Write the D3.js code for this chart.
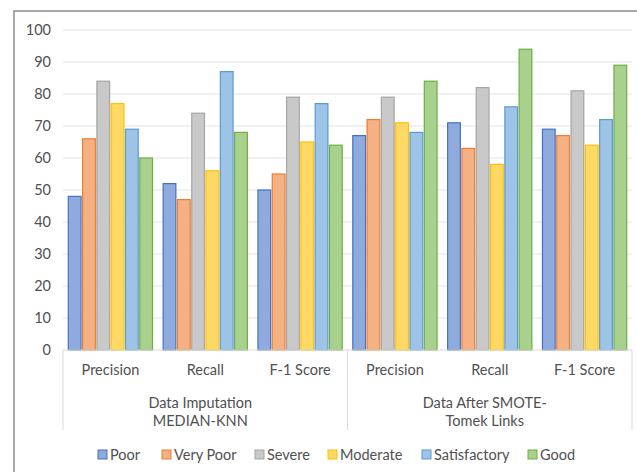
<!DOCTYPE html>
<html>
<head>
<meta charset="utf-8">
<script src="https://cdn.jsdelivr.net/npm/d3@7"></script>
<style>
  html, body { margin: 0; padding: 0; background: #fff; }
  svg { display: block; }
  text { font-family: Lato, "Open Sans", sans-serif; fill: #505050; }
</style>
</head>
<body>
<svg id="chart" width="637" height="472"></svg>
<script>
// Metric labels along the category axis and their grouping
const metrics = ["Precision", "Recall", "F-1 Score", "Precision", "Recall", "F-1 Score"];
const groupLabels = [["Data Imputation", "MEDIAN-KNN"], ["Data After SMOTE-", "Tomek Links"]];
const classes = ["Poor", "Very Poor", "Severe", "Moderate", "Satisfactory", "Good"];
const yTicks = [0, 10, 20, 30, 40, 50, 60, 70, 80, 90, 100];

// Scores per class, one value per metric column
const poor         = [48, 52, 50, 67, 71, 69];
const veryPoor     = [66, 47, 55, 72, 63, 67];
const severe       = [84, 74, 79, 79, 82, 81];
const moderate     = [77, 56, 65, 71, 58, 64];
const satisfactory = [69, 87, 77, 68, 76, 72];
const good         = [60, 68, 64, 84, 94, 89];

const fills   = ["#8faadc", "#f4b183", "#c9c9c9", "#ffd966", "#9dc3e6", "#a9d18e"];
const strokes = ["#4472c4", "#ed7d31", "#a5a5a5", "#ffc000", "#5b9bd5", "#70ad47"];

const seriesValues = [poor, veryPoor, severe, moderate, satisfactory, good];

const svg = d3.select("#chart");

// Outer chart frame
svg.append("rect")
  .attr("x", 14).attr("y", 11)
  .attr("width", 640).attr("height", 480)
  .attr("fill", "#fff")
  .attr("stroke", "#8c8c8c").attr("stroke-width", 1.5);

const plot = { left: 63, right: 632, top: 30, bottom: 350 };

const y = d3.scaleLinear().domain([0, 100]).range([plot.bottom, plot.top]);
const x0 = d3.scaleBand().domain(d3.range(metrics.length)).range([plot.left, plot.right]).padding(0);
const x1 = d3.scaleBand().domain(d3.range(classes.length)).range([0, x0.bandwidth()])
  .paddingInner(0.11).paddingOuter(0.37);

// Horizontal gridlines
svg.append("g")
  .selectAll("line")
  .data(yTicks.filter(t => t > 0))
  .join("line")
  .attr("x1", plot.left).attr("x2", plot.right)
  .attr("y1", d => y(d)).attr("y2", d => y(d))
  .attr("stroke", "#e3e3e3").attr("stroke-width", 1);

// Value axis labels
const yAxis = d3.axisLeft(y).tickValues(yTicks).tickSize(0).tickPadding(0);
svg.append("g")
  .attr("transform", `translate(51,0)`)
  .call(yAxis)
  .call(g => g.select(".domain").remove())
  .call(g => g.selectAll("text")
    .attr("font-size", 14.5)
    .attr("font-family", "Lato, sans-serif")
    .attr("fill", "#505050"));

// Bars
const rows = [];
seriesValues.forEach((vals, s) => vals.forEach((v, m) => rows.push({ s, m, v })));
svg.append("g")
  .selectAll("rect")
  .data(rows)
  .join("rect")
  .attr("x", d => x0(d.m) + x1(d.s))
  .attr("y", d => y(d.v))
  .attr("width", x1.bandwidth())
  .attr("height", d => y(0) - y(d.v))
  .attr("fill", d => fills[d.s])
  .attr("stroke", d => strokes[d.s])
  .attr("stroke-width", 1.2);

// Category axis baseline and group separators
svg.append("line")
  .attr("x1", plot.left).attr("x2", plot.right)
  .attr("y1", plot.bottom).attr("y2", plot.bottom)
  .attr("stroke", "#d9d9d9");
const sepX = [0, 3, 6].map(i => i < metrics.length ? x0(i) : plot.right);
svg.append("g")
  .selectAll("line")
  .data(sepX)
  .join("line")
  .attr("x1", d => d).attr("x2", d => d)
  .attr("y1", plot.bottom).attr("y2", 430)
  .attr("stroke", "#d9d9d9");

// Metric labels
const xAxis = d3.axisBottom(x0).tickFormat(i => metrics[i]).tickSize(0).tickPadding(0);
svg.append("g")
  .attr("transform", `translate(0,${plot.bottom + 15})`)
  .call(xAxis)
  .call(g => g.select(".domain").remove())
  .call(g => g.selectAll("text")
    .attr("font-size", 14.5)
    .attr("font-family", "Lato, sans-serif")
    .attr("fill", "#505050"));

// Group labels
groupLabels.forEach((lines, gi) => {
  const cx = (sepX[gi] + sepX[gi + 1]) / 2 - 5;
  const t = svg.append("text")
    .attr("text-anchor", "middle")
    .attr("font-size", 14.5);
  lines.forEach((ln, li) => {
    t.append("tspan").attr("x", cx).attr("y", 408 + li * 18).text(ln);
  });
});

// Legend
const legendX = [98, 162, 255, 328, 422, 528];
const legend = svg.append("g");
classes.forEach((c, i) => {
  legend.append("rect")
    .attr("x", legendX[i]).attr("y", 450)
    .attr("width", 9).attr("height", 9)
    .attr("fill", fills[i]).attr("stroke", strokes[i]).attr("stroke-width", 1);
  legend.append("text")
    .attr("x", legendX[i] + 12).attr("y", 459.5)
    .attr("font-size", 14.5)
    .text(c);
});
</script>
</body>
</html>
